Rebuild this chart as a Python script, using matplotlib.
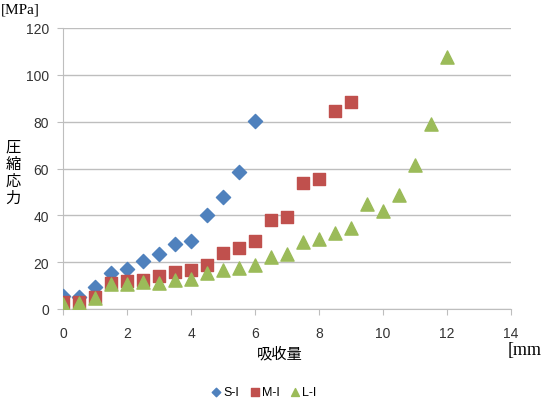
import matplotlib
matplotlib.use('Agg')
import matplotlib.pyplot as plt
import numpy as np

plt.rcParams['font.family'] = ['Liberation Sans', 'Noto Sans CJK JP']

# data
s_x = [0, 0.5, 1, 1.5, 2, 2.5, 3, 3.5, 4, 4.5, 5, 5.5, 6]
s_y = [5.5, 5, 9.4, 15.5, 17, 20.5, 23.5, 27.7, 29, 40, 48, 58.5, 80.3]

m_x = [0, 0.5, 1, 1.5, 2, 2.5, 3, 3.5, 4, 4.5, 5, 5.5, 6, 6.5, 7, 7.5, 8, 8.5, 9]
m_y = [3, 3, 5, 11, 12, 12.5, 14, 16, 16.5, 19, 24, 26, 29, 38, 39.5, 54, 55.5, 84.5, 88.5]

l_x = [0, 0.5, 1, 1.5, 2, 2.5, 3, 3.5, 4, 4.5, 5, 5.5, 6, 6.5, 7, 7.5, 8, 8.5,
       9, 9.5, 10, 10.5, 11, 11.5, 12]
l_y = [2, 2.5, 4.5, 10.5, 10.5, 11.5, 11, 12.5, 13, 15.5, 16.5, 17.5, 19, 22,
       23.5, 28.5, 30, 32.5, 34.5, 45, 42, 48.5, 61.5, 79, 107.5]

fig = plt.figure(figsize=(5.43, 4.02), dpi=100)
ax = fig.add_axes([63/543, 92/402, 448/543, 281/402])

ax.scatter(s_x, s_y, marker='D', s=52, color='#4F81BD', label='S-I', zorder=3)
ax.scatter(m_x, m_y, marker='s', s=80, color='#C0504D', label='M-I', zorder=3)
ax.scatter(l_x, l_y, marker='^', s=90, color='#9BBB59', label='L-I', zorder=3)

ax.set_xlim(0, 14)
ax.set_ylim(0, 120)
ax.set_xticks(np.arange(0, 15, 2))
ax.set_yticks(np.arange(0, 121, 20))
ax.grid(axis='y', color='#BEBEBE', linewidth=1)
ax.set_axisbelow(True)
for side in ['top', 'right']:
    ax.spines[side].set_visible(False)
ax.spines['left'].set_color('#BEBEBE')
ax.spines['bottom'].set_color('#BEBEBE')
ax.tick_params(axis='both', colors='#BEBEBE', labelcolor='#333333', labelsize=10, length=4)
ax.tick_params(axis='x', pad=8)
ax.tick_params(axis='y', pad=6)

fig.text(0.002, 0.975, '[MPa]', family='Liberation Serif', fontsize=11, va='center', ha='left')
fig.text(0.024, 0.57, '圧\n縮\n応\n力', family='Noto Sans CJK JP', fontsize=11,
         va='center', ha='center', linespacing=1.0)
fig.text(0.515, 0.12, '吸收量', family='Noto Sans CJK JP', fontsize=11, ha='center', va='center')
fig.text(0.935, 0.128, '[mm', family='Liberation Serif', fontsize=13, ha='left', va='center')

fig.legend(loc='center', bbox_to_anchor=(0.485, 0.022), ncol=3, frameon=False,
           fontsize=9, handletextpad=0.1, columnspacing=0.7, markerscale=0.6,
           handlelength=1.0)

fig.savefig('out.png', dpi=100)
